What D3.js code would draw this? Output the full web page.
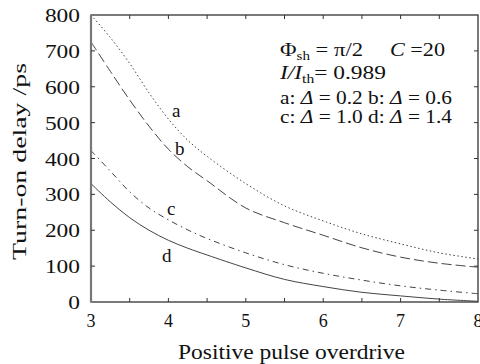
<!DOCTYPE html>
<html>
<head>
<meta charset="utf-8">
<script src="https://cdn.jsdelivr.net/npm/d3@7"></script>
<style>
  body { margin: 0; background: white; }
</style>
</head>
<body>
<div id="chart"></div>
<script>
// overdrive (x) values sampled along each curve
const xs = [3, 3.25, 3.5, 3.75, 4, 4.25, 4.5, 5, 5.5, 6, 6.5, 7, 7.5, 8];
// turn-on delay in ps for each Δ
const delayA = [800, 737, 665, 583, 510, 451, 406, 330, 268, 226, 190, 162, 137, 120];
const delayB = [725, 643, 563, 490, 426, 377, 338, 262, 221, 186, 151, 125, 108, 97];
const delayC = [422, 365, 307, 262, 229, 201, 177, 137, 104, 80, 61, 45, 33, 23];
const delayD = [330, 279, 235, 200, 172, 150, 131, 95, 63, 43, 27, 17, 8, 2];
const curveNames = ['a', 'b', 'c', 'd'];
const xTicks = [3, 4, 5, 6, 7, 8];
const yTicks = [0, 100, 200, 300, 400, 500, 600, 700, 800];

const width = 480, height = 364;
const margin = { top: 15, right: 2, bottom: 62, left: 91 };
const FONT = "'Liberation Serif'";

const svg = d3.select('#chart').append('svg')
    .attr('width', width)
    .attr('height', height);

// every text gets the serif family set on itself
const addText = (parent, size) => parent.append('text')
    .style('font-family', FONT)
    .attr('font-size', size)
    .attr('fill', '#111');

const x = d3.scaleLinear().domain([3, 8]).range([margin.left, width - margin.right]);
const y = d3.scaleLinear().domain([0, 800]).range([height - margin.bottom, margin.top]);

const series = [delayA, delayB, delayC, delayD];
const dashes = ['1.5,2.5', '10,4', '6,4,1.5,4', null];

const line = d3.line()
    .x(d => x(d[0]))
    .y(d => y(d[1]))
    .curve(d3.curveCatmullRom);

series.forEach((vals, i) => {
    svg.append('path')
        .datum(xs.map((v, j) => [v, vals[j]]))
        .attr('fill', 'none')
        .attr('stroke', '#444')
        .attr('stroke-width', 1)
        .attr('stroke-dasharray', dashes[i])
        .attr('d', line);
});

// frame with inward ticks on all four sides
const plot = svg.append('g').attr('stroke', '#333');
plot.append('rect')
    .attr('x', x(3)).attr('y', y(800))
    .attr('width', x(8) - x(3)).attr('height', y(0) - y(800))
    .attr('fill', 'none').attr('stroke-width', 1.3);
plot.append('line')
    .attr('x1', x(3)).attr('x2', x(3)).attr('y1', y(0)).attr('y2', y(800))
    .attr('stroke', '#777').attr('stroke-width', 2.2);

d3.range(3.5, 8, 0.5).forEach(v => {
    plot.append('line').attr('x1', x(v)).attr('x2', x(v))
        .attr('y1', y(0)).attr('y2', y(0) - 4);
    plot.append('line').attr('x1', x(v)).attr('x2', x(v))
        .attr('y1', y(800)).attr('y2', y(800) + 4);
});
yTicks.slice(1, -1).forEach(v => {
    plot.append('line').attr('x1', x(3)).attr('x2', x(3) + 4)
        .attr('y1', y(v)).attr('y2', y(v));
    plot.append('line').attr('x1', x(8)).attr('x2', x(8) - 4)
        .attr('y1', y(v)).attr('y2', y(v));
});

// y tick labels are drawn wider than the rest in the original
yTicks.forEach(d => {
    addText(svg, 18)
        .attr('transform', `translate(${x(3) - 11}, ${y(d) + 7}) scale(1.3, 1)`)
        .attr('text-anchor', 'end')
        .text(d);
});

xTicks.forEach(d => {
    addText(svg, 18)
        .attr('x', x(d))
        .attr('y', y(0) + 25)
        .attr('text-anchor', 'middle')
        .text(d);
});

addText(svg, 20)
    .attr('x', 178)
    .attr('y', 359)
    .attr('textLength', 227)
    .attr('lengthAdjust', 'spacingAndGlyphs')
    .text('Positive pulse overdrive');

addText(svg, 18)
    .attr('transform', 'translate(26, 260) rotate(-90)')
    .attr('textLength', 197)
    .attr('lengthAdjust', 'spacingAndGlyphs')
    .text('Turn-on delay /ps');

// curve labels
const labelPos = [[172, 117], [175, 155], [167, 215], [162, 262]];
curveNames.forEach((n, i) => {
    addText(svg, 19)
        .attr('x', labelPos[i][0])
        .attr('y', labelPos[i][1])
        .text(n);
});

// parameter annotation
const fit = (t, w) => t.attr('textLength', w).attr('lengthAdjust', 'spacingAndGlyphs');

const l1 = fit(addText(svg, 18).attr('x', 280).attr('y', 56), 83);
l1.append('tspan').text('Φ');
l1.append('tspan').attr('font-size', 12).attr('dy', 4).text('sh');
l1.append('tspan').attr('dy', -4).text(' = π/2');
const l1b = fit(addText(svg, 18).attr('x', 390).attr('y', 56), 55);
l1b.append('tspan').attr('font-style', 'italic').text('C');
l1b.append('tspan').text(' =20');

const l2 = fit(addText(svg, 18).attr('x', 280).attr('y', 79), 106);
l2.append('tspan').attr('font-style', 'italic').text('I/I');
l2.append('tspan').attr('font-size', 12).attr('dy', 4).text('th');
l2.append('tspan').attr('dy', -4).text('= 0.989');

[['a', '0.2', 'b', '0.6', 104], ['c', '1.0', 'd', '1.4', 123]].forEach(r => {
    const t = fit(addText(svg, 18).attr('x', 280).attr('y', r[4]), 172);
    t.append('tspan').text(r[0] + ': ');
    t.append('tspan').attr('font-style', 'italic').text('Δ');
    t.append('tspan').text(' = ' + r[1] + ' ' + r[2] + ': ');
    t.append('tspan').attr('font-style', 'italic').text('Δ');
    t.append('tspan').text(' = ' + r[3]);
});
</script>
</body>
</html>
